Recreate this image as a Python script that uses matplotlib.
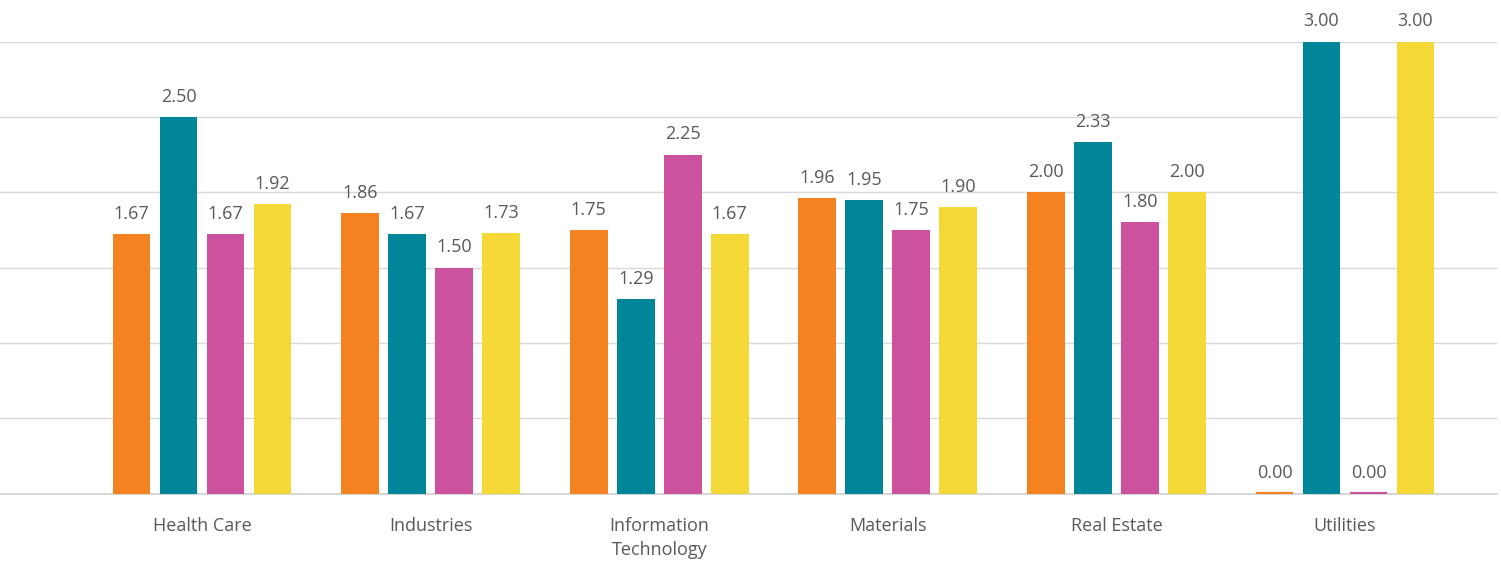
import matplotlib.pyplot as plt
import numpy as np

plt.rcParams["font.family"] = ["Open Sans", "DejaVu Sans"]

sectors = ["Health Care", "Industries", "Information\nTechnology", "Materials", "Real Estate", "Utilities"]

# bar heights as drawn in the picture
series_1 = [1.72, 1.86, 1.75, 1.96, 2.00, 0.00]
series_2 = [2.50, 1.72, 1.29, 1.95, 2.33, 3.00]
series_3 = [1.72, 1.50, 2.25, 1.75, 1.80, 0.00]
series_4 = [1.92, 1.73, 1.72, 1.90, 2.00, 3.00]

# data labels as printed
labels_1 = ["1.67", "1.86", "1.75", "1.96", "2.00", "0.00"]
labels_2 = ["2.50", "1.67", "1.29", "1.95", "2.33", "3.00"]
labels_3 = ["1.67", "1.50", "2.25", "1.75", "1.80", "0.00"]
labels_4 = ["1.92", "1.73", "1.67", "1.90", "2.00", "3.00"]

colors = ["#F58220", "#008599", "#CC529E", "#F4D836"]
text_color = "#595959"

fig = plt.figure(figsize=(15.01, 5.62), dpi=100)
ax = fig.add_axes([0.0, 68.5 / 562, 1497 / 1501, 452 / 562])

x = np.arange(len(sectors))
step = 0.2056
width = 0.165

all_series = [series_1, series_2, series_3, series_4]
all_labels = [labels_1, labels_2, labels_3, labels_4]

for i, (vals, labs, c) in enumerate(zip(all_series, all_labels, colors)):
    pos = x + (i - 1.5) * step
    bars = ax.bar(pos, vals, width=width, color=c, linewidth=0, zorder=4)
    for b, v, lab in zip(bars, vals, labs):
        if v == 0:
            # zero values still show as a thin sliver in the original
            ax.hlines(v, b.get_x(), b.get_x() + b.get_width(), color=c,
                      linewidth=3, zorder=5)
        ax.annotate(lab, (b.get_x() + b.get_width() / 2, v),
                    xytext=(0, 8), textcoords="offset points",
                    ha="center", va="bottom", fontsize=13, color=text_color,
                    annotation_clip=False)

ax.set_xlim(-0.884, 5.665)
ax.set_ylim(0, 3)
ax.set_yticks(np.arange(0, 3.01, 0.5))
ax.set_yticklabels([])
ax.tick_params(axis="y", length=0)
ax.yaxis.grid(True, color="#D9D9D9", linewidth=1, zorder=0)
ax.set_axisbelow(True)

ax.set_xticks(x)
ax.set_xticklabels(sectors, fontsize=13, color=text_color, linespacing=1.4)
ax.tick_params(axis="x", length=0, pad=17)

for s in ["top", "right", "left"]:
    ax.spines[s].set_visible(False)
ax.spines["bottom"].set_color("#D0D0D0")
ax.spines["bottom"].set_linewidth(1.2)

fig.savefig("out.png", dpi=100)
